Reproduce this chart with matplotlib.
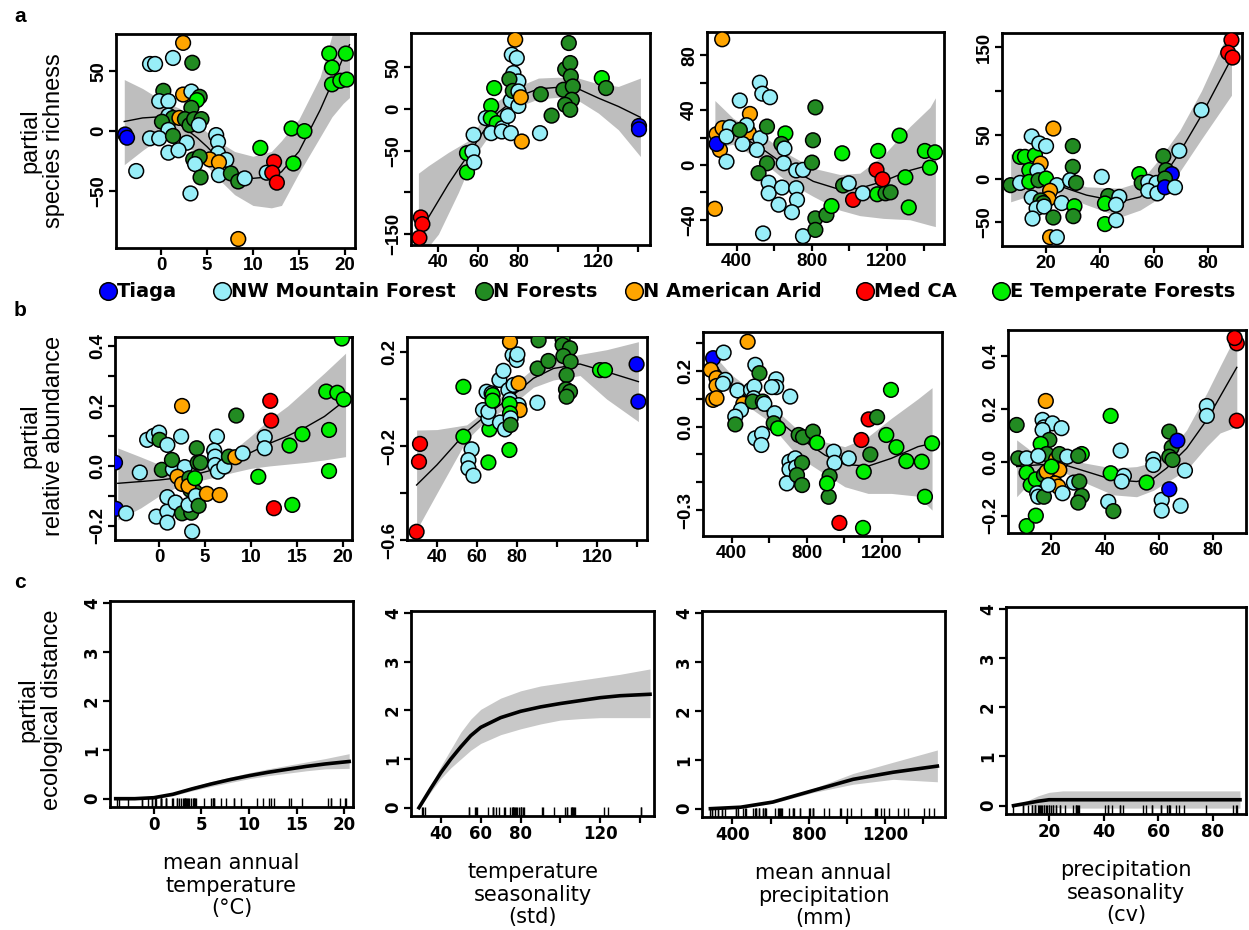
import matplotlib

matplotlib.use("Agg")
import matplotlib.pyplot as plt

W, H = 1249, 930

GROUP_COLORS = {
    "T": "#0000FF",
    "NW": "#98EEF8",
    "NF": "#228B22",
    "AR": "#FFA500",
    "MED": "#FF0000",
    "ET": "#00EE00",
}
LEGEND_GROUPS = ["T", "NW", "NF", "AR", "MED", "ET"]
LEGEND_LABELS = ["Tiaga", "NW Mountain Forest", "N Forests", "N American Arid", "Med CA", "E Temperate Forests"]

# ---- row a: partial species richness ----
A1_X = [2.4, -1.2, -0.65, 1.3, 3.4, 0.25, 2.4, 3.3, 4.2, 3.9, -0.2, 0.8, 3.3, 0.8, 1.3, 2.0, 2.6, 3.1, 3.6, 4.4,
        0.1, 4.1, -3.9, -3.7, 0.8, -1.2, -0.2, 1.3, 2.8, 6.0, 6.2, 0.8, 1.9, 6.2, 7.1, 5.3, 6.3, 3.5, 4.2, 3.7,
        4.3, -2.7, 6.3, 7.6, 8.4, 9.1, 3.2, 8.4, 10.8, 12.3, 11.5, 12.1, 12.6, 14.2, 15.6, 14.4, 18.3, 20.1, 18.6,
        18.6, 19.5, 20.2]
A1_Y = [73.6, 56, 56, 61, 57, 33.6, 30.5, 33, 28.6, 25.8, 25, 25, 19.4, 13, 11, 11, 10, 5, 10, 10,
        7.8, 5, -2.8, -5.5, 1, -6, -6, -4, -9.7, -3.3, -9, -18, -16, -18.6, -24, -23.6, -26, -23.6, -21.4, -27.5,
        -38.6, -33.3, -36.7, -35.3, -42, -39.4, -52, -90, -14, -25.6, -34.7, -34.7, -43, 2.2, 0, -27, 64.7, 64.7, 53,
        39, 42, 43]
A1_G = ("AR NW NW NW NF NF AR NW NF ET NW NW NF NW NF AR NF NF NF NF NF NW T T NW NW NW NF NW NW NW NW NW NW NW "
        "AR AR NF NF NW NF NW NW NF NF NW NW AR ET MED NW MED MED ET ET ET ET ET ET ET ET ET").split()
A1_CX = [-4, -2, 0, 2, 4, 5, 6, 8, 10, 12, 13.1, 15, 17.3, 18.6, 19.8, 20.5]
A1_FIT = [8, 11, 12, 6, -6, -13, -21, -34, -39.4, -38, -34, -17, 17.5, 40, 61, 72]
A1_LO = [-28, -16, -5, -6, -20, -29, -38, -53, -62, -64, -62, -35, -5, 12, 23, 28]
A1_HI = [43, 35.5, 26, 19, 6, -1, -7.5, -17, -21, -17, -8, 10, 45, 80, 100, 110]

A2_X = [31.2, 32, 30.5, 54.3, 54.3, 57.6, 57, 57.9, 67.9, 66.4, 63.7, 66.2, 69.2, 66.4, 72, 74.7, 71.7, 76.2, 76.2,
        80, 77.5, 80, 76.7, 79.2, 78.4, 75.5, 77.2, 80, 81.2, 81.7, 90.8, 91.2, 96.6, 105.2, 103.4, 105.9, 106.2,
        102.5, 107.2, 106.7, 103.4, 105.9, 121.7, 123.8, 140.3, 140.3]
A2_Y = [-130, -138, -154.4, -53, -76, -31, -51, -64, 25, 3.6, -11, -11, -17, -29, -23, -8.4, -27, -29, 10,
        3.6, 43, 33, 65, 61, 83, 35.6, 21.6, 21, 14, -39, -29, 17.6, -8, 79, 47.6, 55, 39,
        23, 27, 11, 5, -1, 37, 25, -20.4, -24.4]
A2_G = ("MED MED MED ET ET NW NW NW ET ET NW ET ET NW NW NW NW NW NW NW NW NW NW NW AR NF NF NW AR AR NW "
        "NF NF NF NF NF NF NF NF NF NF NF ET NF T T").split()
A2_CX = [30, 35, 40, 45, 50, 55, 60, 65, 70, 80, 90, 100, 110, 120, 130, 141]
A2_FIT = [-150, -130, -110, -90, -72, -55, -36, -18, -4, 15, 24, 26, 24, 13, 3, -10]
A2_LO = [-175, -165, -150, -125, -100, -72, -50, -33, -17, 3, 12, 14, 10, -5, -25, -57]
A2_HI = [-77, -68, -60, -52, -45, -38, -20, -3, 10, 27, 37, 38, 37, 30, 27, 37]

A3_X = [323, 284, 293, 325, 311, 465, 471, 293, 364, 346, 346, 417, 453, 432, 417, 524, 537, 578, 526, 508,
        562, 562, 517, 571, 571, 541, 660, 639, 655, 651, 642, 624, 718, 754, 718, 722, 695, 754, 820, 807,
        802, 820, 820, 879, 906, 963, 968, 998, 1021, 1073, 1155, 1146, 1150, 1194, 1221, 1178, 1269, 1300,
        1318, 1404, 1458, 1431]
A3_Y = [91.7, -32, 22.4, 26.8, 11, 23.6, 37.2, 15.3, 27.5, 20.7, 2.4, 47, 29, 15.3, 25.5, 60, 52, 49.4, 19.5, 11,
        28, 1.2, -6, -13, -20.7, -50, 23, 15.3, 12, 1.2, -16.5, -29, -4, -3.6, -17, -25.5, -34.5, -52, 42, 18,
        1.7, -39, -47.4, -36.5, -30, 8.5, -15, -13.4, -25.5, -20.7, 10.2, -3.6, -21.4, -20.7, -20, -10.5, 21.4, -9,
        -31, 10.2, 9.2, -2]
A3_G = ("AR AR AR AR AR AR AR T NW NW NW NW NW NW NF NW NW NW NW NW NF NF NF NW NW NW ET NF NW NW NW NW NW NW "
        "NW NW NW NW NF NF NF NF NF NF ET ET NF NW MED NW ET MED ET NF NF MED ET ET ET ET ET ET").split()
A3_CX = [284, 382, 524, 667, 809, 951, 1057, 1182, 1324, 1431, 1460]
A3_FIT = [27, 24, 13, -1, -12, -18, -17, -12, -4, 0, 2]
A3_LO = [13, 15, 4, -12, -23, -33, -37, -39, -40, -44, -45]
A3_HI = [47, 34, 23, 8.5, -2.4, -7, -6, 7, 28, 42, 49]

A4_X = [6.9, 10.4, 10.4, 12.2, 15.9, 14.7, 17.5, 20, 22.7, 18, 13.8, 16.8, 13.8, 17.2, 20, 24, 21.5, 20.9, 14.7,
        18, 19, 16.5, 19.3, 15, 22.7, 25.8, 21.5, 24, 29.9, 29.9, 28.9, 31.1, 30.5, 30.1, 40.6, 43, 47.1, 41.8,
        45.9, 41.8, 45.9, 54.5, 55.4, 57.8, 60.9, 57.8, 61.2, 63.4, 64.4, 66.5, 64, 64, 67.7, 69.3, 77.5, 88.6,
        87.4, 89]
A4_Y = [-7.6, -5, 24.7, 24.7, 26.6, 48, 40, 37, 57, 17, 9.5, 8.8, -3.8, -2, 0, -7.6, -14, -23, -21.7,
        -25, -28, -34, -32, -45.7, -44.5, -28, -67, -67, 37, 13.3, -2, -5, -31.6, -43, 1.9, -20, -21, -28.5,
        -30, -52, -47.6, 5, -5, -4, -5, -14, -17, 25.5, 9.5, 5, 0, -10, -10, 31.6, 78, 158,
        143.5, 138]
A4_G = ("NF NW ET ET ET NW NW NW AR AR ET NW ET NF ET NW AR AR NW NF NF NW NW NW NF NW AR NW NF NF NW NF ET NF "
        "NW NF NW ET NW ET NW ET NF NW NW NW NW NF NF T NF T NW NW NW MED MED MED").split()
A4_CX = [6.9, 16.5, 24, 35, 47.4, 54.8, 62.1, 69.5, 77.5, 88.6]
A4_FIT = [0, -4, -7.6, -19, -26.6, -21, -4, 30, 72, 137]
A4_LO = [-26.6, -17, -17, -30, -44, -36, -22, 8, 45, 95]
A4_HI = [28.5, 5.7, 0, -9.5, -11, -4, 23, 55, 100, 175]

# ---- row b: partial relative abundance ----
B1_X = [-4.8, -4.7, -3.6, -2.1, -1.3, -0.6, 0, 0.05, 0.9, -0.3, 0.9, 0.9, 0.3, 1.5, 1.4, 0.9, 1.8, 2.5, 2.4, 2.8,
        2.0, 2.5, 2.5, 3.5, 3.2, 3.6, 3.3, 3.4, 3.9, 3.2, 3.9, 4.0, 4.3, 4.1, 4.2, 4.5, 5.2, 6.6, 6.3, 6.0,
        6.1, 6.1, 6.4, 7.1, 7.6, 8.3, 9.1, 8.4, 10.8, 11.5, 11.5, 12.1, 12.2, 12.5, 14.2, 15.6, 14.5, 19.9, 18.2,
        19.4, 20.1, 18.5, 18.5]
B1_Y = [0.011, -0.143, -0.158, -0.022, 0.087, 0.1, 0.111, 0.087, 0.07, -0.169, -0.152, -0.189, -0.013, -0.011,
        0.02, -0.104, -0.122, 0.2, 0.098, -0.004, -0.036, -0.06, -0.158, -0.156, -0.13, -0.219, -0.041, -0.08,
        -0.086, -0.067, -0.041, -0.1, -0.133, 0.059, 0.011, 0.011, -0.093, -0.097, 0.098, 0.051, 0.031, 0.003,
        -0.019, -0.002, 0.031, 0.029, 0.042, 0.168, -0.036, 0.096, 0.059, 0.217, 0.151, -0.141, 0.068, 0.106,
        -0.13, 0.425, 0.248, 0.244, 0.222, 0.12, -0.017]
B1_G = ("T T NW NW NW NW NW NF NW NW NW NW NF NW NF NW NW AR NW NW AR AR NF NF NW NW NF NF NF AR ET NW NF NF NF "
        "NF AR AR NW NW NW NW NW NW NF AR NW NF ET NW NW MED MED MED ET ET ET ET ET ET ET ET ET").split()
B1_CX = [-4.5, -2, 0, 2, 4, 6, 8, 10, 12, 14, 16, 18, 20.3]
B1_FIT = [-0.058, -0.052, -0.047, -0.04, -0.028, -0.012, 0.014, 0.045, 0.075, 0.1, 0.13, 0.165, 0.22]
B1_LO = [-0.18, -0.14, -0.1, -0.07, -0.052, -0.038, -0.022, -0.008, 0.0, 0.006, 0.012, 0.02, 0.031]
B1_HI = [0.06, 0.03, 0.005, -0.012, -0.005, 0.015, 0.05, 0.1, 0.155, 0.2, 0.255, 0.31, 0.376]

B2_X = [31.5, 31, 29.8, 53.2, 53.2, 57.3, 55.7, 55.7, 58.2, 65.7, 66.2, 63, 65.7, 65.7, 64.8, 67.3, 67.8, 67.8,
        71.2, 73.2, 77.8, 79.8, 80.2, 76.5, 75.7, 78.3, 80.8, 76.5, 80.8, 80, 81.3, 76.3, 76.5, 71.5, 74, 76.8,
        76.8, 76.2, 90.2, 90.3, 95.7, 90.8, 102.8, 102.8, 106.5, 103.2, 106.8, 104.8, 104.5, 106.5, 104.8, 121.5,
        124, 139.8, 140.7]
B2_Y = [-0.191, -0.267, -0.565, 0.052, -0.16, -0.214, -0.26, -0.295, -0.326, -0.27, -0.129, -0.047, -0.082,
        -0.054, 0.031, 0.024, 0.017, -0.007, 0.081, 0.12, 0.187, 0.166, 0.19, 0.244, 0.038, 0.06, 0.067, -0.004,
        -0.026, -0.047, -0.047, -0.021, -0.061, -0.1, -0.129, -0.082, -0.11, -0.217, -0.016, 0.13, 0.162, 0.25,
        0.255, 0.23, 0.216, 0.183, 0.159, 0.102, 0.041, 0.031, 0.01, 0.123, 0.123, 0.148, -0.011]
B2_G = ("MED MED MED ET ET NW NW NW NW ET ET NW NW NW NW NW ET ET NW NW NW NW NW AR NW NW AR NW NW NW AR ET ET "
        "NW NW NW NF ET NW NF NF NF NF NF NF NF NF NF NF NF NF ET ET T T").split()
B2_CX = [29.8, 40, 54.8, 64.8, 78.2, 88.2, 98.2, 111.5, 124.8, 140.7]
B2_FIT = [-0.366, -0.28, -0.139, -0.068, 0.017, 0.088, 0.13, 0.149, 0.116, 0.074]
B2_LO = [-0.557, -0.4, -0.174, -0.09, -0.02, 0.05, 0.081, 0.1, 0.0, -0.096]
B2_HI = [-0.132, -0.13, -0.11, -0.045, 0.06, 0.13, 0.166, 0.19, 0.21, 0.244]

B3_X = [485, 301, 357, 289, 319, 319, 301, 319, 366, 353, 431, 462, 449, 419, 419, 526, 548, 503, 521, 517,
        512, 566, 574, 526, 562, 558, 637, 637, 614, 712, 629, 624, 647, 708, 739, 708, 744, 694, 775, 748,
        775, 757, 780, 833, 855, 944, 948, 1024, 922, 917, 908, 974, 1100, 1091, 1130, 1175, 1139, 1104, 1224,
        1249, 1278, 1331, 1468, 1413, 1430]
B3_Y = [0.305, 0.246, 0.266, 0.204, 0.174, 0.146, 0.096, 0.102, 0.168, 0.154, 0.13, 0.082, 0.06, 0.036, 0.008,
        0.222, 0.192, 0.132, 0.144, 0.102, 0.09, 0.09, 0.082, -0.042, -0.026, -0.066, 0.17, 0.142, 0.142, 0.108,
        0.048, 0.012, -0.006, -0.126, -0.114, -0.154, -0.146, -0.204, -0.13, -0.174, -0.21, -0.03, -0.038,
        -0.018, -0.058, -0.09, -0.13, -0.114, -0.178, -0.252, -0.204, -0.346, -0.364, -0.048, 0.026, 0.034,
        -0.1, -0.162, -0.03, 0.132, -0.074, -0.124, -0.06, -0.126, -0.252]
B3_G = ("AR T NW AR AR AR AR AR NW NW NW AR NW NW NF NW NF NW NW NW NF NF NW NW NW NW NW NW NW NW NW NF ET NW "
        "NW NW NW NW NF NF NF NF NF NF ET NW NW NW NF NF ET MED ET MED MED NF NF ET ET ET ET ET ET ET ET").split()
B3_CX = [301, 399, 577, 754, 896, 1003, 1127, 1251, 1393, 1468]
B3_FIT = [0.234, 0.144, 0.06, -0.036, -0.102, -0.136, -0.142, -0.114, -0.072, -0.06]
B3_LO = [0.205, 0.114, 0.03, -0.108, -0.17, -0.216, -0.24, -0.24, -0.25, -0.3]
B3_HI = [0.26, 0.186, 0.095, -0.012, -0.055, -0.072, -0.036, 0.03, 0.1, 0.14]

B4_X = [7.3, 7.9, 11, 11, 12.5, 14.4, 11, 14.4, 14.9, 15.3, 17.4, 17.4, 18.1, 16.9, 17.4, 20.6, 23.9, 16.9, 19.4,
        16.2, 18.4, 15.3, 21.9, 23.3, 23.1, 18.4, 21.5, 22.7, 23.1, 20.2, 19, 24.3, 26, 31.4, 30.1, 28.5, 30.5,
        31.4, 30.1, 42.1, 45.8, 42.1, 47, 46.2, 41.2, 43.1, 55.4, 57.9, 57.9, 61, 61, 68, 63.8, 63.8, 64.7, 63.8,
        65, 66.8, 69.6, 77.7, 77.7, 88.8, 88.8, 88]
B4_Y = [0.14, 0.015, 0.015, -0.039, -0.085, -0.064, -0.239, -0.2, -0.116, -0.129, -0.129, -0.048, 0.23, 0.159,
        0.131, 0.146, 0.128, 0.121, 0.084, 0.069, 0.031, 0.024, 0.011, -0.004, -0.029, -0.035, -0.079, -0.091,
        0.031, -0.016, -0.085, -0.116, 0.021, 0.031, 0.024, -0.076, -0.072, -0.126, -0.151, 0.174, 0.044, -0.041,
        -0.051, -0.072, -0.148, -0.183, -0.076, 0.011, -0.01, -0.141, -0.181, -0.163, -0.101, 0.115, 0.056, 0.021,
        0.009, 0.081, -0.031, 0.211, 0.174, 0.156, 0.446, 0.466]
B4_G = ("NF NF NW ET ET ET ET ET NW NW NF NF AR NW NW NW NW NW NF ET NF NW AR AR AR AR AR AR NF ET NW NW NW ET "
        "NF NW NF NF NF ET NW ET NW NW NW NF ET NW NW NW NW NW T NF NF NF NF T NW NW NW MED MED MED").split()
B4_CX = [7.3, 14.7, 23.3, 33.2, 43.1, 51.7, 57.9, 62.8, 70.2, 77.7, 82.6, 88.8]
B4_FIT = [-0.016, -0.01, -0.004, -0.035, -0.066, -0.072, -0.06, -0.022, 0.052, 0.159, 0.246, 0.356]
B4_LO = [-0.129, -0.048, -0.03, -0.079, -0.122, -0.129, -0.105, -0.075, -0.029, 0.06, 0.11, 0.134]
B4_HI = [0.084, 0.027, 0.015, -0.004, -0.022, -0.016, 0.0, 0.03, 0.121, 0.26, 0.36, 0.484]

# ---- row c: partial ecological distance (GDM splines) ----
C1_CX = [-4, -2, 0, 2, 4, 6, 8, 10, 12, 14, 16, 18, 20.5]
C1_FIT = [0, 0, 0.02, 0.09, 0.2, 0.3, 0.39, 0.47, 0.54, 0.6, 0.66, 0.71, 0.76]
C1_LO = [-0.02, -0.02, 0.0, 0.06, 0.16, 0.25, 0.33, 0.41, 0.47, 0.52, 0.57, 0.61, 0.62]
C1_HI = [0.02, 0.02, 0.04, 0.12, 0.24, 0.35, 0.44, 0.53, 0.61, 0.68, 0.75, 0.82, 0.92]

C2_CX = [29, 35, 40, 45, 50, 55, 60, 70, 80, 90, 100, 110, 120, 130, 145]
C2_FIT = [0, 0.4, 0.72, 1.0, 1.25, 1.48, 1.65, 1.85, 1.98, 2.07, 2.14, 2.2, 2.26, 2.3, 2.33]
C2_LO = [-0.02, 0.33, 0.6, 0.82, 1.0, 1.18, 1.32, 1.5, 1.62, 1.72, 1.8, 1.83, 1.85, 1.85, 1.85]
C2_HI = [0.02, 0.47, 0.85, 1.2, 1.55, 1.82, 2.02, 2.25, 2.4, 2.5, 2.56, 2.62, 2.68, 2.74, 2.85]

C3_CX = [285, 443, 611, 822, 1032, 1242, 1473]
C3_FIT = [0, 0.03, 0.135, 0.37, 0.6, 0.745, 0.87]
C3_LO = [-0.02, 0.01, 0.11, 0.33, 0.5, 0.6, 0.55]
C3_HI = [0.02, 0.05, 0.16, 0.41, 0.72, 0.95, 1.2]

C4_CX = [7, 12, 16, 20, 25, 40, 60, 80, 90]
C4_FIT = [0, 0.05, 0.09, 0.12, 0.12, 0.12, 0.12, 0.12, 0.12]
C4_LO = [-0.01, 0.0, 0.0, -0.02, -0.05, -0.05, -0.05, -0.05, -0.05]
C4_HI = [0.01, 0.1, 0.2, 0.27, 0.3, 0.3, 0.3, 0.3, 0.3]

C_XLABELS = ["mean annual\ntemperature\n(°C)", "temperature\nseasonality\n(std)",
             "mean annual\nprecipitation\n(mm)", "precipitation\nseasonality\n(cv)"]

# axis ticks per predictor (labels blank where R dropped them)
TEMP_TICKS, TEMP_LABELS = [0, 5, 10, 15, 20], ["0", "5", "10", "15", "20"]
TSEAS_TICKS, TSEAS_LABELS = [40, 60, 80, 100, 120, 140], ["40", "60", "80", "", "120", ""]
PREC_TICKS, PREC_LABELS = [400, 600, 800, 1000, 1200, 1400], ["400", "", "800", "", "1200", ""]
PSEAS_TICKS, PSEAS_LABELS = [20, 40, 60, 80], ["20", "40", "60", "80"]

fig = plt.figure(figsize=(W / 100, H / 100), dpi=100)

AB_FONT = dict(family="Liberation Sans", size=13.5, weight="bold")
C_FONT = dict(family="DejaVu Sans", size=12, weight="bold")


def add_box(l, r, t, b):
    return fig.add_axes([l / W, 1 - b / H, (r - l) / W, (b - t) / H])


def style(ax, xlim, ylim, xt, xl, yt, yl, font):
    ax.set_xlim(xlim)
    ax.set_ylim(ylim)
    ax.set_xticks(xt)
    ax.set_xticklabels(xl, fontdict=font)
    ax.set_yticks(yt)
    ax.set_yticklabels(yl, fontdict=font, rotation=90, va="center")
    for s in ax.spines.values():
        s.set_linewidth(2.0)
    ax.tick_params(direction="out", length=5, width=1.6, pad=1.5)


def scatter_panel(box, xs, ys, gs, cx, fit, lo, hi, xlim, ylim, xt, xl, yt, yl):
    ax = add_box(*box)
    ax.fill_between(cx, lo, hi, color="#BEBEBE", lw=0, zorder=1)
    ax.plot(cx, fit, color="black", lw=1.0, zorder=2)
    ax.scatter(xs, ys, s=112, c=[GROUP_COLORS[g] for g in gs], edgecolors="black", linewidths=1.1, zorder=3)
    style(ax, xlim, ylim, xt, xl, yt, yl, AB_FONT)
    return ax


def gdm_panel(box, cx, fit, lo, hi, rug, xlim, xt, xl, xlabel):
    ax = add_box(*box)
    ax.fill_between(cx, lo, hi, color="#C8C8C8", lw=0, zorder=1)
    ax.plot(cx, fit, color="black", lw=2.6, zorder=2)
    ax.vlines(rug, 0, 0.045, transform=ax.get_xaxis_transform(), color="black", lw=1.0, zorder=3)
    style(ax, xlim, (-0.17, 4.04), xt, xl, [0, 1, 2, 3, 4], ["0", "1", "2", "3", "4"], C_FONT)
    ax.set_xlabel(xlabel, family="DejaVu Sans", fontsize=15, labelpad=14, linespacing=1.15)
    return ax


# row a
scatter_panel((116, 355, 34, 248), A1_X, A1_Y, A1_G, A1_CX, A1_FIT, A1_LO, A1_HI, (-4.9, 21.1), (-97.5, 81),
              TEMP_TICKS, TEMP_LABELS, [-50, 0, 50], ["−50", "0", "50"])
scatter_panel((411, 650, 33, 245), A2_X, A2_Y, A2_G, A2_CX, A2_FIT, A2_LO, A2_HI, (26.3, 145.8), (-163, 91),
              TSEAS_TICKS, TSEAS_LABELS, [-150, -100, -50, 0, 50], ["−150", "", "−50", "0", "50"])
scatter_panel((707, 944, 32, 244), A3_X, A3_Y, A3_G, A3_CX, A3_FIT, A3_LO, A3_HI, (242, 1506), (-57.7, 97),
              PREC_TICKS, PREC_LABELS, [-40, -20, 0, 20, 40, 60, 80], ["−40", "", "0", "", "40", "", "80"])
scatter_panel((1002, 1242, 33, 246), A4_X, A4_Y, A4_G, A4_CX, A4_FIT, A4_LO, A4_HI, (3.7, 92.5), (-77, 166),
              PSEAS_TICKS, PSEAS_LABELS, [-50, 0, 50, 100, 150], ["−50", "0", "50", "", "150"])

# row b
scatter_panel((115, 352, 337, 540), B1_X, B1_Y, B1_G, B1_CX, B1_FIT, B1_LO, B1_HI, (-4.8, 21), (-0.247, 0.43),
              TEMP_TICKS, TEMP_LABELS, [-0.2, -0.1, 0.0, 0.1, 0.2, 0.3, 0.4],
              ["−0.2", "", "0.0", "", "0.2", "", "0.4"])
scatter_panel((407, 647, 337, 540), B2_X, B2_Y, B2_G, B2_CX, B2_FIT, B2_LO, B2_HI, (25, 145), (-0.6, 0.264),
              TSEAS_TICKS, TSEAS_LABELS, [-0.6, -0.4, -0.2, 0.0, 0.2], ["−0.6", "", "−0.2", "", "0.2"])
scatter_panel((703, 942, 332, 536), B3_X, B3_Y, B3_G, B3_CX, B3_FIT, B3_LO, B3_HI, (247, 1521), (-0.393, 0.34),
              PREC_TICKS, PREC_LABELS, [-0.3, -0.2, -0.1, 0.0, 0.1, 0.2, 0.3],
              ["−0.3", "", "", "0.0", "", "0.2", ""])
scatter_panel((1008, 1246, 330, 533), B4_X, B4_Y, B4_G, B4_CX, B4_FIT, B4_LO, B4_HI, (4.1, 92.2), (-0.265, 0.496),
              PSEAS_TICKS, PSEAS_LABELS, [-0.2, 0.0, 0.2, 0.4], ["−0.2", "0.0", "0.2", "0.4"])

# row c
gdm_panel((110, 353, 601, 807), C1_CX, C1_FIT, C1_LO, C1_HI, A1_X, (-4.6, 20.9), TEMP_TICKS, TEMP_LABELS,
          C_XLABELS[0])
gdm_panel((411, 654, 611, 816), C2_CX, C2_FIT, C2_LO, C2_HI, A2_X, (25, 147), TSEAS_TICKS, TSEAS_LABELS,
          C_XLABELS[1])
gdm_panel((702, 945, 611, 817), C3_CX, C3_FIT, C3_LO, C3_HI, A3_X, (241, 1513), PREC_TICKS, PREC_LABELS,
          C_XLABELS[2])
gdm_panel((1006, 1246, 607, 814), C4_CX, C4_FIT, C4_LO, C4_HI, A4_X, (4.25, 92.2), PSEAS_TICKS, PSEAS_LABELS,
          C_XLABELS[3])

# overlay in pixel coordinates for legend and row labels
ov = fig.add_axes([0, 0, 1, 1])
ov.set_xlim(0, W)
ov.set_ylim(H, 0)
ov.axis("off")

leg_marker_x = [108, 222, 484, 634, 865, 1001]
for g, lab, mx in zip(LEGEND_GROUPS, LEGEND_LABELS, leg_marker_x):
    ov.scatter([mx], [291], s=160, color=GROUP_COLORS[g], edgecolors="black", linewidths=1.1)
    ov.text(mx + 9, 291, lab, family="DejaVu Sans", fontsize=14, fontweight="bold", va="center", ha="left")

for letter, y in [("a", 17), ("b", 310), ("c", 582)]:
    ov.text(14, y, letter, family="Liberation Sans", fontsize=15, fontweight="bold", va="center", ha="left")

ov.text(42, 141, "partial\nspecies richness", family="Liberation Sans", fontsize=17, rotation=90,
        ha="center", va="center", linespacing=1.1)
ov.text(42, 436, "partial\nrelative abundance", family="Liberation Sans", fontsize=17, rotation=90,
        ha="center", va="center", linespacing=1.1)
ov.text(40, 710, "partial\necological distance", family="Liberation Sans", fontsize=17, rotation=90,
        ha="center", va="center", linespacing=1.1)

fig.savefig("out.png", dpi=100)
